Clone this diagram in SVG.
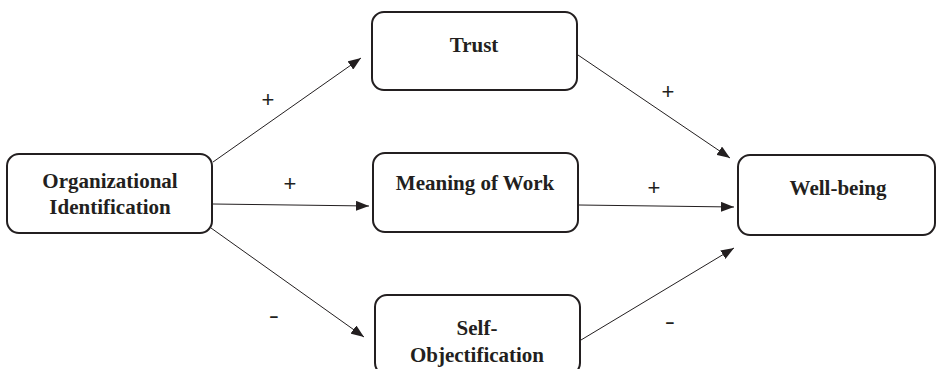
<svg xmlns="http://www.w3.org/2000/svg" width="937" height="369" viewBox="0 0 937 369">
  <style>
    .box { fill: #ffffff; stroke: #231f20; stroke-width: 2; }
    .label { font-family: "Liberation Serif", "Times New Roman", serif; font-weight: bold; font-size: 21px; fill: #231f20; text-anchor: middle; }
    .edge { stroke: #231f20; stroke-width: 1; fill: none; marker-end: url(#arrow); }
    .sign { font-family: "Liberation Sans", Arial, sans-serif; font-size: 22px; fill: #231f20; text-anchor: middle; }
  </style>
  <defs>
    <marker id="arrow" markerUnits="userSpaceOnUse" markerWidth="14" markerHeight="10" refX="13" refY="5" orient="auto">
      <path d="M0,0 L13,5 L0,10 Z" fill="#231f20"/>
    </marker>
  </defs>
  <rect width="937" height="369" fill="#ffffff"/>

  <g id="connectors">
    <line class="edge" x1="213" y1="162" x2="361" y2="58"/>
    <line class="edge" x1="213" y1="204" x2="369" y2="206"/>
    <line class="edge" x1="211" y1="228" x2="364" y2="337"/>
    <line class="edge" x1="578" y1="55" x2="730" y2="158"/>
    <line class="edge" x1="579" y1="205" x2="734" y2="207"/>
    <line class="edge" x1="581" y1="340" x2="734" y2="248"/>
    <text class="sign" x="268" y="107">+</text>
    <text class="sign" x="290" y="191">+</text>
    <text class="sign" x="274" y="323" transform="translate(274 0) scale(1.4 1) translate(-274 0)">-</text>
    <text class="sign" x="668" y="99">+</text>
    <text class="sign" x="654" y="195">+</text>
    <text class="sign" x="670" y="329" transform="translate(670 0) scale(1.4 1) translate(-670 0)">-</text>
  </g>

  <g id="organizational-identification">
    <rect class="box" x="7" y="154" width="205" height="79" rx="12"/>
    <text class="label" x="110" y="188">Organizational</text>
    <text class="label" x="110" y="214">Identification</text>
  </g>

  <g id="trust">
    <rect class="box" x="372" y="12" width="205" height="78" rx="12"/>
    <text class="label" x="474" y="52">Trust</text>
  </g>

  <g id="meaning-of-work">
    <rect class="box" x="373" y="153" width="205" height="79" rx="12"/>
    <text class="label" x="475" y="190">Meaning of Work</text>
  </g>

  <g id="self-objectification">
    <rect class="box" x="375" y="295" width="205" height="80" rx="12"/>
    <text class="label" x="477" y="335">Self-</text>
    <text class="label" x="477" y="362">Objectification</text>
  </g>

  <g id="well-being">
    <rect class="box" x="738" y="155" width="197" height="80" rx="12"/>
    <text class="label" x="838" y="195">Well-being</text>
  </g>
</svg>
